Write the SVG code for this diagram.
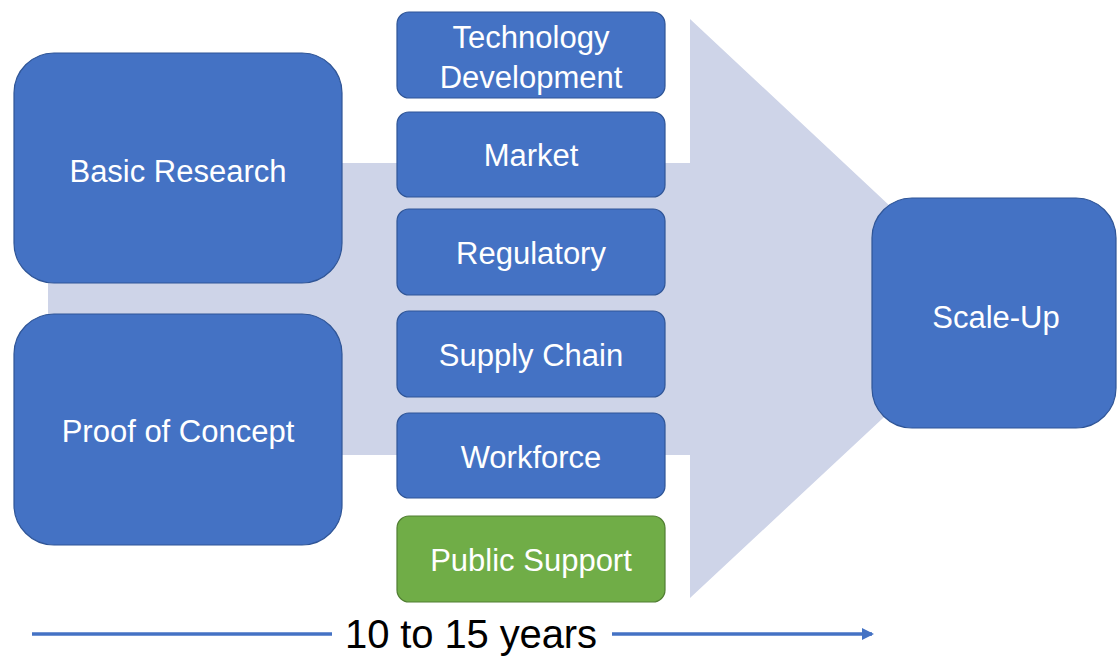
<svg xmlns="http://www.w3.org/2000/svg" width="1117" height="663" viewBox="0 0 1117 663">
<defs>
<style>
.b{fill:#4472C4;stroke:#2F5597;stroke-width:1.2}
.g{fill:#70AD47;stroke:#507E32;stroke-width:1.2}
.t{font-family:"Liberation Sans",Arial,sans-serif;font-size:31px;fill:#FFFFFF;text-anchor:middle}
.ln{stroke:#4472C4;stroke-width:3.5;fill:none}
</style>
<marker id="ah" markerWidth="12" markerHeight="12" refX="10" refY="6" orient="auto" markerUnits="userSpaceOnUse">
<path d="M0,0 L12,6 L0,12 Z" fill="#4472C4"/>
</marker>
</defs>
<rect width="1117" height="663" fill="#FFFFFF"/>
<g id="bigarrow">
<polygon points="48,163 690,163 690,19 1000,309 690,598 690,455 48,455" fill="#CED4E8"/>
</g>
<g id="basic-research">
<rect class="b" x="14" y="53" width="328" height="230" rx="40"/>
<text class="t" x="178" y="182">Basic Research</text>
</g>
<g id="proof-of-concept">
<rect class="b" x="14" y="314" width="328" height="231" rx="40"/>
<text class="t" x="178" y="442">Proof of Concept</text>
</g>
<g id="technology-development">
<rect class="b" x="397" y="12" width="268" height="86" rx="12"/>
<text class="t" x="531" y="48">Technology</text>
<text class="t" x="531" y="88">Development</text>
</g>
<g id="market">
<rect class="b" x="397" y="112" width="268" height="85" rx="12"/>
<text class="t" x="531" y="166">Market</text>
</g>
<g id="regulatory">
<rect class="b" x="397" y="209" width="268" height="86" rx="12"/>
<text class="t" x="531" y="264">Regulatory</text>
</g>
<g id="supply-chain">
<rect class="b" x="397" y="311" width="268" height="86" rx="12"/>
<text class="t" x="531" y="366">Supply Chain</text>
</g>
<g id="workforce">
<rect class="b" x="397" y="413" width="268" height="85" rx="12"/>
<text class="t" x="531" y="468">Workforce</text>
</g>
<g id="public-support">
<rect class="g" x="397" y="516" width="268" height="86" rx="12"/>
<text class="t" x="531" y="571">Public Support</text>
</g>
<g id="scale-up">
<rect class="b" x="872" y="198" width="244" height="230" rx="40"/>
<text class="t" x="996" y="328">Scale-Up</text>
</g>
<g id="connectors">
<line class="ln" x1="32" y1="634" x2="332" y2="634"/>
<line class="ln" x1="612" y1="634" x2="872" y2="634" marker-end="url(#ah)"/>
<text x="471" y="648" font-family="'Liberation Sans',Arial,sans-serif" font-size="40" fill="#000000" text-anchor="middle" textLength="252">10 to 15 years</text>
</g>
</svg>
